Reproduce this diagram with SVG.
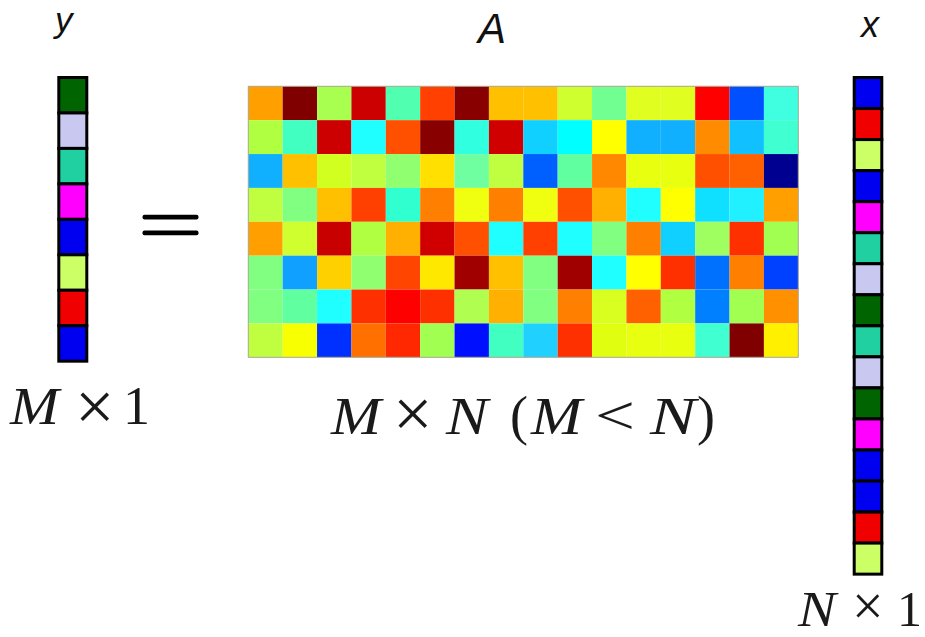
<svg xmlns="http://www.w3.org/2000/svg" width="925" height="637" viewBox="0 0 925 637">
<style>
  .lbl { font-family: "Liberation Sans", "Open Sans", sans-serif; font-style: italic; fill: #111; }
  .math { font-family: "Liberation Serif", "DejaVu Serif", serif; fill: #1a1a1a; font-size: 52px; }
  .it { font-style: italic; font-size: 52px; }
  .one { font-size: 54px; }
  .op { font-size: 54px; }
  .x { font-size: 70px; }
  .vc { stroke: #000; stroke-width: 3; }
  .dg { fill: #006400; } .lv { fill: #C8C8F0; } .aq { fill: #20D0A0; } .mg { fill: #FF00FF; }
  .bl { fill: #0000F0; } .yg { fill: #CCFF66; } .rd { fill: #F00000; }
  .eq { fill: #000; }
</style>
<rect width="925" height="637" fill="#fff"/>

<g id="label-y"><text class="lbl" x="55" y="32" font-size="35">y</text></g>
<g id="label-A"><text class="lbl" x="478" y="43" font-size="42">A</text></g>
<g id="label-x"><text class="lbl" x="861" y="37" font-size="36">x</text></g>

<g id="vector-y">
  <rect class="vc dg" x="58.8" y="77.5" width="28" height="35.46"/>
  <rect class="vc lv" x="58.8" y="112.96" width="28" height="35.46"/>
  <rect class="vc aq" x="58.8" y="148.42" width="28" height="35.46"/>
  <rect class="vc mg" x="58.8" y="183.88" width="28" height="35.46"/>
  <rect class="vc bl" x="58.8" y="219.34" width="28" height="35.46"/>
  <rect class="vc yg" x="58.8" y="254.8" width="28" height="35.46"/>
  <rect class="vc rd" x="58.8" y="290.26" width="28" height="35.46"/>
  <rect class="vc bl" x="58.8" y="325.72" width="28" height="35.46"/>
</g>

<g id="equals">
  <rect class="eq" x="142.5" y="214.8" width="56" height="4.6" rx="2"/>
  <rect class="eq" x="142.5" y="230.6" width="56" height="4.6" rx="2"/>
</g>

<g id="matrix-A" transform="translate(248.3,86.3)">
  <!-- row 0 -->
  <rect x="0" y="0" width="34.375" height="33.875" fill="#FFA000"/>
  <rect x="34.375" y="0" width="34.375" height="33.875" fill="#800000"/>
  <rect x="68.75" y="0" width="34.375" height="33.875" fill="#A8FF50"/>
  <rect x="103.125" y="0" width="34.375" height="33.875" fill="#CC0000"/>
  <rect x="137.5" y="0" width="34.375" height="33.875" fill="#50FFB0"/>
  <rect x="171.875" y="0" width="34.375" height="33.875" fill="#FF4000"/>
  <rect x="206.25" y="0" width="34.375" height="33.875" fill="#880000"/>
  <rect x="240.625" y="0" width="34.375" height="33.875" fill="#FFC000"/>
  <rect x="275" y="0" width="34.375" height="33.875" fill="#FFC000"/>
  <rect x="309.375" y="0" width="34.375" height="33.875" fill="#D0FF30"/>
  <rect x="343.75" y="0" width="34.375" height="33.875" fill="#70FF90"/>
  <rect x="378.125" y="0" width="34.375" height="33.875" fill="#E0FF20"/>
  <rect x="412.5" y="0" width="34.375" height="33.875" fill="#E0FF20"/>
  <rect x="446.875" y="0" width="34.375" height="33.875" fill="#FF0000"/>
  <rect x="481.25" y="0" width="34.375" height="33.875" fill="#0050FF"/>
  <rect x="515.625" y="0" width="34.375" height="33.875" fill="#40FFE0"/>
  <!-- row 1 -->
  <rect x="0" y="33.875" width="34.375" height="33.875" fill="#B0FF40"/>
  <rect x="34.375" y="33.875" width="34.375" height="33.875" fill="#40FFC0"/>
  <rect x="68.75" y="33.875" width="34.375" height="33.875" fill="#CC0000"/>
  <rect x="103.125" y="33.875" width="34.375" height="33.875" fill="#20FFFF"/>
  <rect x="137.5" y="33.875" width="34.375" height="33.875" fill="#FF5000"/>
  <rect x="171.875" y="33.875" width="34.375" height="33.875" fill="#880000"/>
  <rect x="206.25" y="33.875" width="34.375" height="33.875" fill="#30FFE0"/>
  <rect x="240.625" y="33.875" width="34.375" height="33.875" fill="#D00000"/>
  <rect x="275" y="33.875" width="34.375" height="33.875" fill="#10D0FF"/>
  <rect x="309.375" y="33.875" width="34.375" height="33.875" fill="#00FFFF"/>
  <rect x="343.75" y="33.875" width="34.375" height="33.875" fill="#FFFF00"/>
  <rect x="378.125" y="33.875" width="34.375" height="33.875" fill="#10B0FF"/>
  <rect x="412.5" y="33.875" width="34.375" height="33.875" fill="#10B0FF"/>
  <rect x="446.875" y="33.875" width="34.375" height="33.875" fill="#FF8C00"/>
  <rect x="481.25" y="33.875" width="34.375" height="33.875" fill="#10C0FF"/>
  <rect x="515.625" y="33.875" width="34.375" height="33.875" fill="#40FFD0"/>
  <!-- row 2 -->
  <rect x="0" y="67.75" width="34.375" height="33.875" fill="#10B0FF"/>
  <rect x="34.375" y="67.75" width="34.375" height="33.875" fill="#FFC000"/>
  <rect x="68.75" y="67.75" width="34.375" height="33.875" fill="#D0FF20"/>
  <rect x="103.125" y="67.75" width="34.375" height="33.875" fill="#C0FF40"/>
  <rect x="137.5" y="67.75" width="34.375" height="33.875" fill="#90FF70"/>
  <rect x="171.875" y="67.75" width="34.375" height="33.875" fill="#FFE000"/>
  <rect x="206.25" y="67.75" width="34.375" height="33.875" fill="#70FFA0"/>
  <rect x="240.625" y="67.75" width="34.375" height="33.875" fill="#C0FF40"/>
  <rect x="275" y="67.75" width="34.375" height="33.875" fill="#0060FF"/>
  <rect x="309.375" y="67.75" width="34.375" height="33.875" fill="#60FFA0"/>
  <rect x="343.75" y="67.75" width="34.375" height="33.875" fill="#FF8800"/>
  <rect x="378.125" y="67.75" width="34.375" height="33.875" fill="#E8FF10"/>
  <rect x="412.5" y="67.75" width="34.375" height="33.875" fill="#E8FF10"/>
  <rect x="446.875" y="67.75" width="34.375" height="33.875" fill="#FF5000"/>
  <rect x="481.25" y="67.75" width="34.375" height="33.875" fill="#FF6000"/>
  <rect x="515.625" y="67.75" width="34.375" height="33.875" fill="#000090"/>
  <!-- row 3 -->
  <rect x="0" y="101.625" width="34.375" height="33.875" fill="#C0FF40"/>
  <rect x="34.375" y="101.625" width="34.375" height="33.875" fill="#80FF80"/>
  <rect x="68.75" y="101.625" width="34.375" height="33.875" fill="#FFC000"/>
  <rect x="103.125" y="101.625" width="34.375" height="33.875" fill="#FF4000"/>
  <rect x="137.5" y="101.625" width="34.375" height="33.875" fill="#30FFD0"/>
  <rect x="171.875" y="101.625" width="34.375" height="33.875" fill="#FF8000"/>
  <rect x="206.25" y="101.625" width="34.375" height="33.875" fill="#F0FF10"/>
  <rect x="240.625" y="101.625" width="34.375" height="33.875" fill="#FF8000"/>
  <rect x="275" y="101.625" width="34.375" height="33.875" fill="#F0FF10"/>
  <rect x="309.375" y="101.625" width="34.375" height="33.875" fill="#FF5000"/>
  <rect x="343.75" y="101.625" width="34.375" height="33.875" fill="#FFB000"/>
  <rect x="378.125" y="101.625" width="34.375" height="33.875" fill="#20FFFF"/>
  <rect x="412.5" y="101.625" width="34.375" height="33.875" fill="#FFFF00"/>
  <rect x="446.875" y="101.625" width="34.375" height="33.875" fill="#10E0FF"/>
  <rect x="481.25" y="101.625" width="34.375" height="33.875" fill="#20F0FF"/>
  <rect x="515.625" y="101.625" width="34.375" height="33.875" fill="#FFA000"/>
  <!-- row 4 -->
  <rect x="0" y="135.5" width="34.375" height="33.875" fill="#FFA000"/>
  <rect x="34.375" y="135.5" width="34.375" height="33.875" fill="#D0FF30"/>
  <rect x="68.75" y="135.5" width="34.375" height="33.875" fill="#C80000"/>
  <rect x="103.125" y="135.5" width="34.375" height="33.875" fill="#B0FF40"/>
  <rect x="137.5" y="135.5" width="34.375" height="33.875" fill="#FFB000"/>
  <rect x="171.875" y="135.5" width="34.375" height="33.875" fill="#D00000"/>
  <rect x="206.25" y="135.5" width="34.375" height="33.875" fill="#FF5000"/>
  <rect x="240.625" y="135.5" width="34.375" height="33.875" fill="#20FFFF"/>
  <rect x="275" y="135.5" width="34.375" height="33.875" fill="#FF4000"/>
  <rect x="309.375" y="135.5" width="34.375" height="33.875" fill="#20FFFF"/>
  <rect x="343.75" y="135.5" width="34.375" height="33.875" fill="#80FF80"/>
  <rect x="378.125" y="135.5" width="34.375" height="33.875" fill="#FF8000"/>
  <rect x="412.5" y="135.5" width="34.375" height="33.875" fill="#10D0FF"/>
  <rect x="446.875" y="135.5" width="34.375" height="33.875" fill="#A0FF60"/>
  <rect x="481.25" y="135.5" width="34.375" height="33.875" fill="#FF3000"/>
  <rect x="515.625" y="135.5" width="34.375" height="33.875" fill="#A0FF50"/>
  <!-- row 5 -->
  <rect x="0" y="169.375" width="34.375" height="33.875" fill="#80FF80"/>
  <rect x="34.375" y="169.375" width="34.375" height="33.875" fill="#10A0FF"/>
  <rect x="68.75" y="169.375" width="34.375" height="33.875" fill="#FFD000"/>
  <rect x="103.125" y="169.375" width="34.375" height="33.875" fill="#90FF70"/>
  <rect x="137.5" y="169.375" width="34.375" height="33.875" fill="#FF4500"/>
  <rect x="171.875" y="169.375" width="34.375" height="33.875" fill="#FFE800"/>
  <rect x="206.25" y="169.375" width="34.375" height="33.875" fill="#A00000"/>
  <rect x="240.625" y="169.375" width="34.375" height="33.875" fill="#FFC000"/>
  <rect x="275" y="169.375" width="34.375" height="33.875" fill="#80FF80"/>
  <rect x="309.375" y="169.375" width="34.375" height="33.875" fill="#A00000"/>
  <rect x="343.75" y="169.375" width="34.375" height="33.875" fill="#20FFFF"/>
  <rect x="378.125" y="169.375" width="34.375" height="33.875" fill="#FFFF00"/>
  <rect x="412.5" y="169.375" width="34.375" height="33.875" fill="#FF3000"/>
  <rect x="446.875" y="169.375" width="34.375" height="33.875" fill="#0070FF"/>
  <rect x="481.25" y="169.375" width="34.375" height="33.875" fill="#FF8000"/>
  <rect x="515.625" y="169.375" width="34.375" height="33.875" fill="#0040FF"/>
  <!-- row 6 -->
  <rect x="0" y="203.25" width="34.375" height="33.875" fill="#80FF80"/>
  <rect x="34.375" y="203.25" width="34.375" height="33.875" fill="#60FFA0"/>
  <rect x="68.75" y="203.25" width="34.375" height="33.875" fill="#20FFFF"/>
  <rect x="103.125" y="203.25" width="34.375" height="33.875" fill="#FF3000"/>
  <rect x="137.5" y="203.25" width="34.375" height="33.875" fill="#FF0000"/>
  <rect x="171.875" y="203.25" width="34.375" height="33.875" fill="#FF3000"/>
  <rect x="206.25" y="203.25" width="34.375" height="33.875" fill="#B0FF50"/>
  <rect x="240.625" y="203.25" width="34.375" height="33.875" fill="#FFB000"/>
  <rect x="275" y="203.25" width="34.375" height="33.875" fill="#80FF80"/>
  <rect x="309.375" y="203.25" width="34.375" height="33.875" fill="#FF8000"/>
  <rect x="343.75" y="203.25" width="34.375" height="33.875" fill="#D8FF20"/>
  <rect x="378.125" y="203.25" width="34.375" height="33.875" fill="#FF6000"/>
  <rect x="412.5" y="203.25" width="34.375" height="33.875" fill="#B0FF40"/>
  <rect x="446.875" y="203.25" width="34.375" height="33.875" fill="#0080FF"/>
  <rect x="481.25" y="203.25" width="34.375" height="33.875" fill="#A0FF50"/>
  <rect x="515.625" y="203.25" width="34.375" height="33.875" fill="#FF9000"/>
  <!-- row 7 -->
  <rect x="0" y="237.125" width="34.375" height="33.875" fill="#C0FF40"/>
  <rect x="34.375" y="237.125" width="34.375" height="33.875" fill="#F8FF00"/>
  <rect x="68.75" y="237.125" width="34.375" height="33.875" fill="#0030FF"/>
  <rect x="103.125" y="237.125" width="34.375" height="33.875" fill="#FF7000"/>
  <rect x="137.5" y="237.125" width="34.375" height="33.875" fill="#FF2800"/>
  <rect x="171.875" y="237.125" width="34.375" height="33.875" fill="#A0FF50"/>
  <rect x="206.25" y="237.125" width="34.375" height="33.875" fill="#0010FF"/>
  <rect x="240.625" y="237.125" width="34.375" height="33.875" fill="#40FFC0"/>
  <rect x="275" y="237.125" width="34.375" height="33.875" fill="#20D0FF"/>
  <rect x="309.375" y="237.125" width="34.375" height="33.875" fill="#FF3000"/>
  <rect x="343.75" y="237.125" width="34.375" height="33.875" fill="#E0FF10"/>
  <rect x="378.125" y="237.125" width="34.375" height="33.875" fill="#E8FF10"/>
  <rect x="412.5" y="237.125" width="34.375" height="33.875" fill="#E8FF10"/>
  <rect x="446.875" y="237.125" width="34.375" height="33.875" fill="#40FFD0"/>
  <rect x="481.25" y="237.125" width="34.375" height="33.875" fill="#800000"/>
  <rect x="515.625" y="237.125" width="34.375" height="33.875" fill="#FFF000"/>
  <rect x="0" y="0" width="550" height="271" fill="none" stroke="#A8A890" stroke-width="1"/>
</g>

<g id="vector-x">
  <rect class="vc bl" x="854.2" y="77.5" width="27.6" height="31.04"/>
  <rect class="vc rd" x="854.2" y="108.54" width="27.6" height="31.04"/>
  <rect class="vc yg" x="854.2" y="139.58" width="27.6" height="31.04"/>
  <rect class="vc bl" x="854.2" y="170.62" width="27.6" height="31.04"/>
  <rect class="vc mg" x="854.2" y="201.66" width="27.6" height="31.04"/>
  <rect class="vc aq" x="854.2" y="232.7" width="27.6" height="31.04"/>
  <rect class="vc lv" x="854.2" y="263.74" width="27.6" height="31.04"/>
  <rect class="vc dg" x="854.2" y="294.78" width="27.6" height="31.04"/>
  <rect class="vc aq" x="854.2" y="325.82" width="27.6" height="31.04"/>
  <rect class="vc lv" x="854.2" y="356.86" width="27.6" height="31.04"/>
  <rect class="vc dg" x="854.2" y="387.9" width="27.6" height="31.04"/>
  <rect class="vc mg" x="854.2" y="418.94" width="27.6" height="31.04"/>
  <rect class="vc bl" x="854.2" y="449.98" width="27.6" height="31.04"/>
  <rect class="vc bl" x="854.2" y="481.02" width="27.6" height="31.04"/>
  <rect class="vc rd" x="854.2" y="512.06" width="27.6" height="31.04"/>
  <rect class="vc yg" x="854.2" y="543.1" width="27.6" height="31.04"/>
</g>

<g id="dim-y">
  <text class="math" y="424"><tspan class="it" x="10" textLength="49" lengthAdjust="spacingAndGlyphs">M</tspan><tspan class="x" x="75" y="430">×</tspan><tspan class="one" x="123" y="424">1</tspan></text>
</g>
<g id="dim-A">
  <text class="math" y="434"><tspan class="it" x="331" textLength="50" lengthAdjust="spacingAndGlyphs">M</tspan><tspan class="x" x="393" y="437">×</tspan><tspan class="it" x="446" y="434" textLength="42" lengthAdjust="spacingAndGlyphs">N</tspan><tspan class="op" x="510">(</tspan><tspan class="it" x="531" textLength="51" lengthAdjust="spacingAndGlyphs">M</tspan><tspan class="op" x="595" textLength="40" lengthAdjust="spacingAndGlyphs">&lt;</tspan><tspan class="it" x="650" textLength="46" lengthAdjust="spacingAndGlyphs">N</tspan><tspan class="op" x="697">)</tspan></text>
</g>
<g id="dim-x">
  <text class="math" y="626" font-size="50"><tspan x="798" font-style="italic" font-size="50" textLength="38" lengthAdjust="spacingAndGlyphs">N</tspan><tspan x="852" y="625" font-size="56">×</tspan><tspan x="897" y="626" font-size="50">1</tspan></text>
</g>
</svg>
